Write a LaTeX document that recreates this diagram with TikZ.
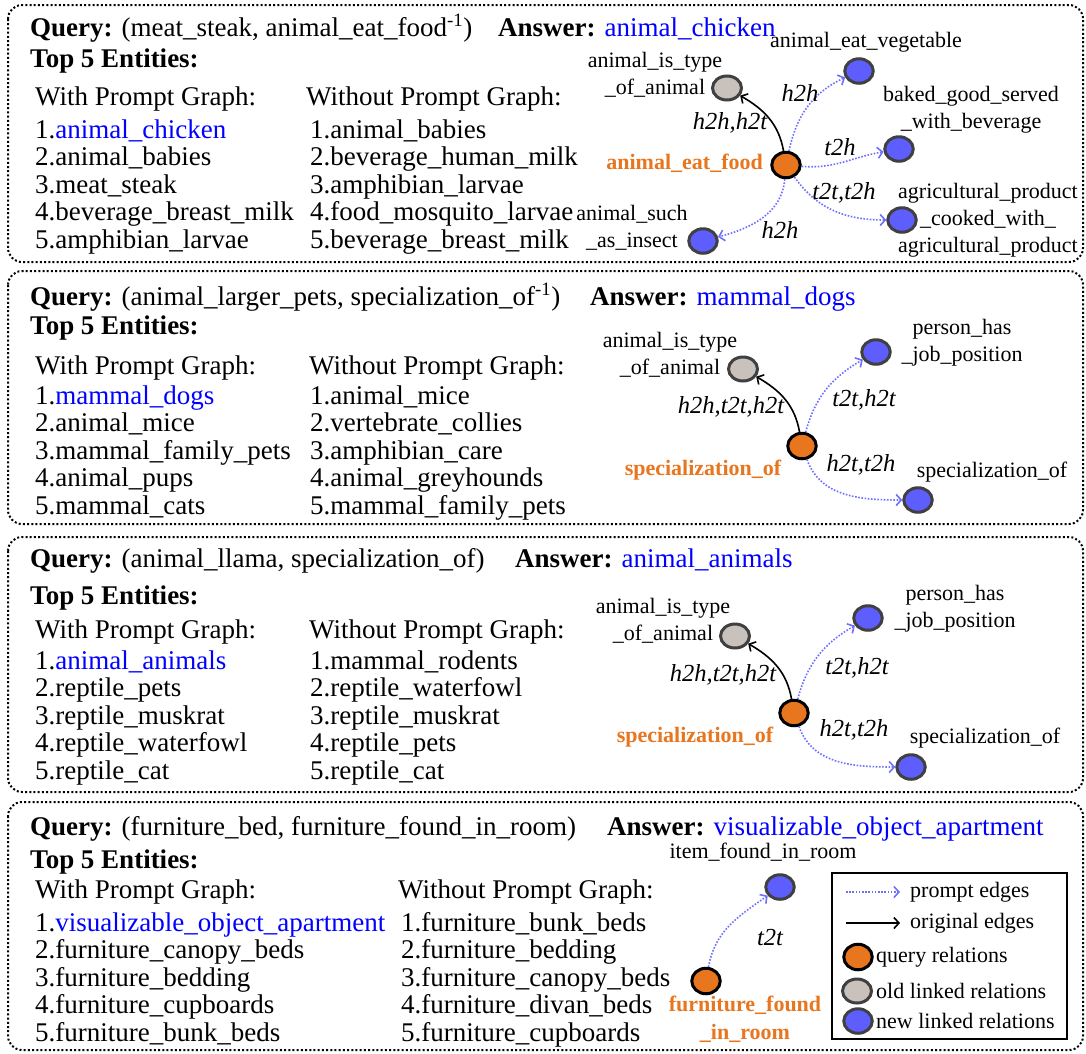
\documentclass[tikz,border=0pt]{standalone}
\usepackage{fontspec}
\setmainfont{Liberation Serif}
\usetikzlibrary{arrows.meta,shapes.geometric}
\definecolor{qorange}{HTML}{E8761E}
\definecolor{nblue}{HTML}{5E5EFF}
\definecolor{eblue}{HTML}{7070FF}
\definecolor{ogray}{HTML}{C8C1BC}
\definecolor{ansblue}{HTML}{0000FF}
\definecolor{rimgray}{HTML}{404040}
\tikzset{
 panel/.style={draw, line width=2pt, dash pattern=on 2pt off 2.2pt, rounded corners=14pt},
 txt/.style={inner sep=0pt, anchor=base west, font=\fontsize{27}{27}\selectfont},
 lbl/.style={inner sep=0pt, align=center, font=\fontsize{22}{27}\selectfont},
 elbl/.style={inner sep=0pt, font=\fontsize{24.5}{27}\selectfont\itshape},
 qlbl/.style={inner sep=0pt, align=center, text=qorange, font=\fontsize{22}{28}\selectfont\bfseries},
 legtxt/.style={inner sep=0pt, anchor=west, font=\fontsize{22}{27}\selectfont},
 qnode/.style={ellipse, draw=black, fill=qorange, line width=3pt, minimum width=28.5pt, minimum height=25.5pt, inner sep=0pt},
 onode/.style={ellipse, draw=rimgray, fill=ogray, line width=3pt, minimum width=29pt, minimum height=24pt, inner sep=0pt},
 nnode/.style={ellipse, draw=rimgray, fill=nblue, line width=3pt, minimum width=28.5pt, minimum height=24.5pt, inner sep=0pt},
 pedge/.style={draw=eblue, line width=1.6pt, dash pattern=on 1.6pt off 1.6pt, -{Straight Barb[length=5pt,width=11pt]}},
 oedge/.style={draw=black, line width=1.6pt, -{Straight Barb[length=5pt,width=11pt]}},
 legbox/.style={draw=black, line width=2pt}
}
\begin{document}
\begin{tikzpicture}[x=1pt,y=1pt]
\useasboundingbox (0,0) rectangle (1086,-1053);
\fill[white] (0,0) rectangle (1086,-1053);

% ---------- panels ----------
\draw[panel] (8,-5) rectangle (1083,-262);
\draw[panel] (8,-271) rectangle (1083,-524);
\draw[panel] (8,-537) rectangle (1083,-792);
\draw[panel] (8,-802) rectangle (1083,-1050);

% ---------- panel 1 text ----------
\node[txt] (q1) at (30,-36) {\textbf{Query:} (meat\_steak, animal\_eat\_food\textsuperscript{-1})};
\node[txt] (a1) at (498,-36) {\textbf{Answer:} \textcolor{ansblue}{animal\_chicken}};
\node[txt] (t1) at (30,-67) {\textbf{Top 5 Entities:}};
\node[txt] (w1) at (35,-105) {With Prompt Graph:};
\node[txt] (wo1) at (306,-105) {Without Prompt Graph:};
\node[txt] (l1a) at (35,-138) {1.\textcolor{ansblue}{animal\_chicken}};
\node[txt] (l1b) at (35,-165.5) {2.animal\_babies};
\node[txt] (l1c) at (35,-193) {3.meat\_steak};
\node[txt] (l1d) at (35,-220.5) {4.beverage\_breast\_milk};
\node[txt] (l1e) at (35,-248) {5.amphibian\_larvae};
\node[txt] (r1a) at (310,-138) {1.animal\_babies};
\node[txt] (r1b) at (310,-165.5) {2.beverage\_human\_milk};
\node[txt] (r1c) at (310,-193) {3.amphibian\_larvae};
\node[txt] (r1d) at (310,-220.5) {4.food\_mosquito\_larvae};
\node[txt] (r1e) at (310,-248) {5.beverage\_breast\_milk};

% ---------- panel 1 graph ----------
\node[qnode] (O1) at (786,-165) {};
\node[onode] (G1) at (727,-88) {};
\node[nnode] (B1a) at (859,-71) {};
\node[nnode] (B1b) at (899,-149) {};
\node[nnode] (B1c) at (902,-220) {};
\node[nnode] (B1d) at (703,-241) {};
\node[lbl] (G1l) at (655,-75) {animal\_is\_type\\\_of\_animal};
\node[lbl] (B1al) at (866,-42) {animal\_eat\_vegetable};
\node[lbl] (B1bl) at (971,-110) {baked\_good\_served\\\_with\_beverage};
\node[lbl] (B1cl) at (988,-220) {agricultural\_product\\\_cooked\_with\_\\agricultural\_product};
\node[lbl] (B1dl) at (632,-228) {animal\_such\\\_as\_insect};
\node[qlbl, anchor=east] (O1l) at (763,-163) {animal\_eat\_food};
\draw[oedge] (O1) to[out=100,in=-30] (G1);
\draw[pedge] (O1) to[out=78,in=-155] (B1a);
\draw[pedge] (O1) to[out=-5,in=-170] (B1b);
\draw[pedge] (O1) to[out=-55,in=180] (B1c);
\draw[pedge] (O1) to[out=-95,in=15] (B1d);
\node[elbl] (e1a) at (730,-123) {h2h,h2t};
\node[elbl] (e1b) at (800,-93) {h2h};
\node[elbl] (e1c) at (840,-147) {t2h};
\node[elbl] (e1d) at (844,-193) {t2t,t2h};
\node[elbl] (e1e) at (780,-230) {h2h};

% ---------- panel 2 text ----------
\node[txt] (q2) at (30,-305) {\textbf{Query:} (animal\_larger\_pets, specialization\_of\textsuperscript{-1})};
\node[txt] (a2) at (590,-305) {\textbf{Answer:} \textcolor{ansblue}{mammal\_dogs}};
\node[txt] (t2) at (30,-334) {\textbf{Top 5 Entities:}};
\node[txt] (w2) at (35,-374) {With Prompt Graph:};
\node[txt] (wo2) at (309,-374) {Without Prompt Graph:};
\node[txt] (l2a) at (35,-404) {1.\textcolor{ansblue}{mammal\_dogs}};
\node[txt] (l2b) at (35,-431.5) {2.animal\_mice};
\node[txt] (l2c) at (35,-459) {3.mammal\_family\_pets};
\node[txt] (l2d) at (35,-486.5) {4.animal\_pups};
\node[txt] (l2e) at (35,-514) {5.mammal\_cats};
\node[txt] (r2a) at (310,-404) {1.animal\_mice};
\node[txt] (r2b) at (310,-431.5) {2.vertebrate\_collies};
\node[txt] (r2c) at (310,-459) {3.amphibian\_care};
\node[txt] (r2d) at (310,-486.5) {4.animal\_greyhounds};
\node[txt] (r2e) at (310,-514) {5.mammal\_family\_pets};

% ---------- panel 2 graph ----------
\node[qnode] (O2) at (802,-446) {};
\node[onode] (G2) at (743,-369) {};
\node[nnode] (B2a) at (876,-352) {};
\node[nnode] (B2b) at (918,-500) {};
\node[lbl] (G2l) at (670,-355) {animal\_is\_type\\\_of\_animal};
\node[lbl] (B2al) at (962,-343) {person\_has\\\_job\_position};
\node[lbl] (B2bl) at (992,-472) {specialization\_of};
\node[qlbl] (O2l) at (703,-470) {specialization\_of};
\draw[oedge] (O2) to[out=100,in=-30] (G2);
\draw[pedge] (O2) to[out=75,in=-150] (B2a);
\draw[pedge] (O2) to[out=-70,in=180] (B2b);
\node[elbl] (e2a) at (731,-407) {h2h,t2t,h2t};
\node[elbl] (e2b) at (864,-400) {t2t,h2t};
\node[elbl] (e2c) at (861,-465) {h2t,t2h};

% ---------- panel 3 text ----------
\node[txt] (q3) at (30,-567) {\textbf{Query:} (animal\_llama, specialization\_of)};
\node[txt] (a3) at (515,-567) {\textbf{Answer:} \textcolor{ansblue}{animal\_animals}};
\node[txt] (t3) at (30,-604) {\textbf{Top 5 Entities:}};
\node[txt] (w3) at (35,-638) {With Prompt Graph:};
\node[txt] (wo3) at (309,-638) {Without Prompt Graph:};
\node[txt] (l3a) at (35,-669) {1.\textcolor{ansblue}{animal\_animals}};
\node[txt] (l3b) at (35,-696.5) {2.reptile\_pets};
\node[txt] (l3c) at (35,-724) {3.reptile\_muskrat};
\node[txt] (l3d) at (35,-751.5) {4.reptile\_waterfowl};
\node[txt] (l3e) at (35,-779) {5.reptile\_cat};
\node[txt] (r3a) at (310,-669) {1.mammal\_rodents};
\node[txt] (r3b) at (310,-696.5) {2.reptile\_waterfowl};
\node[txt] (r3c) at (310,-724) {3.reptile\_muskrat};
\node[txt] (r3d) at (310,-751.5) {4.reptile\_pets};
\node[txt] (r3e) at (310,-779) {5.reptile\_cat};

% ---------- panel 3 graph ----------
\node[qnode] (O3) at (794,-713) {};
\node[onode] (G3) at (735,-636) {};
\node[nnode] (B3a) at (868,-618) {};
\node[nnode] (B3b) at (911,-767) {};
\node[lbl] (G3l) at (663,-621) {animal\_is\_type\\\_of\_animal};
\node[lbl] (B3al) at (955,-609) {person\_has\\\_job\_position};
\node[lbl] (B3bl) at (985,-738) {specialization\_of};
\node[qlbl] (O3l) at (695,-737) {specialization\_of};
\draw[oedge] (O3) to[out=100,in=-30] (G3);
\draw[pedge] (O3) to[out=75,in=-150] (B3a);
\draw[pedge] (O3) to[out=-70,in=180] (B3b);
\node[elbl] (e3a) at (723,-675) {h2h,t2t,h2t};
\node[elbl] (e3b) at (857,-668) {t2t,h2t};
\node[elbl] (e3c) at (854,-730) {h2t,t2h};

% ---------- panel 4 text ----------
\node[txt] (q4) at (30,-835) {\textbf{Query:} (furniture\_bed, furniture\_found\_in\_room)};
\node[txt] (a4) at (607,-835) {\textbf{Answer:} \textcolor{ansblue}{visualizable\_object\_apartment}};
\node[txt] (t4) at (30,-868) {\textbf{Top 5 Entities:}};
\node[txt] (w4) at (35,-898) {With Prompt Graph:};
\node[txt] (wo4) at (398,-898) {Without Prompt Graph:};
\node[txt] (l4a) at (35,-931) {1.\textcolor{ansblue}{visualizable\_object\_apartment}};
\node[txt] (l4b) at (35,-958.5) {2.furniture\_canopy\_beds};
\node[txt] (l4c) at (35,-986) {3.furniture\_bedding};
\node[txt] (l4d) at (35,-1013.5) {4.furniture\_cupboards};
\node[txt] (l4e) at (35,-1041) {5.furniture\_bunk\_beds};
\node[txt] (r4a) at (401,-931) {1.furniture\_bunk\_beds};
\node[txt] (r4b) at (401,-958.5) {2.furniture\_bedding};
\node[txt] (r4c) at (401,-986) {3.furniture\_canopy\_beds};
\node[txt] (r4d) at (401,-1013.5) {4.furniture\_divan\_beds};
\node[txt] (r4e) at (401,-1041) {5.furniture\_cupboards};

% ---------- panel 4 graph ----------
\node[qnode] (O4) at (706,-981) {};
\node[nnode] (B4) at (780,-887) {};
\node[lbl] (B4l) at (763,-852) {item\_found\_in\_room};
\node[qlbl] (O4l) at (745,-1019) {furniture\_found\\\_in\_room};
\draw[pedge] (O4) to[out=80,in=-145] (B4);
\node[elbl] (e4a) at (770,-937) {t2t};

% ---------- legend ----------
\node[legbox, minimum width=235pt, minimum height=166pt, inner sep=0pt] (leg) at (949.5,-956) {};
\coordinate (lp1) at (846,-892);
\coordinate (lp2) at (900,-892);
\coordinate (lo1) at (846,-923);
\coordinate (lo2) at (900,-923);
\draw[pedge] (lp1) -- (lp2);
\draw[oedge] (lo1) -- (lo2);
\node[legtxt] (lpt) at (910,-892) {prompt edges};
\node[legtxt] (lot) at (910,-923) {original edges};
\node[qnode] (lq) at (858,-957) {};
\node[onode] (lg) at (857,-991) {};
\node[nnode] (lb) at (858,-1021) {};
\node[legtxt] (lqt) at (876,-957) {query relations};
\node[legtxt] (lgt) at (876,-991) {old linked relations};
\node[legtxt] (lbt) at (876,-1021) {new linked relations};
\end{tikzpicture}
\end{document}
